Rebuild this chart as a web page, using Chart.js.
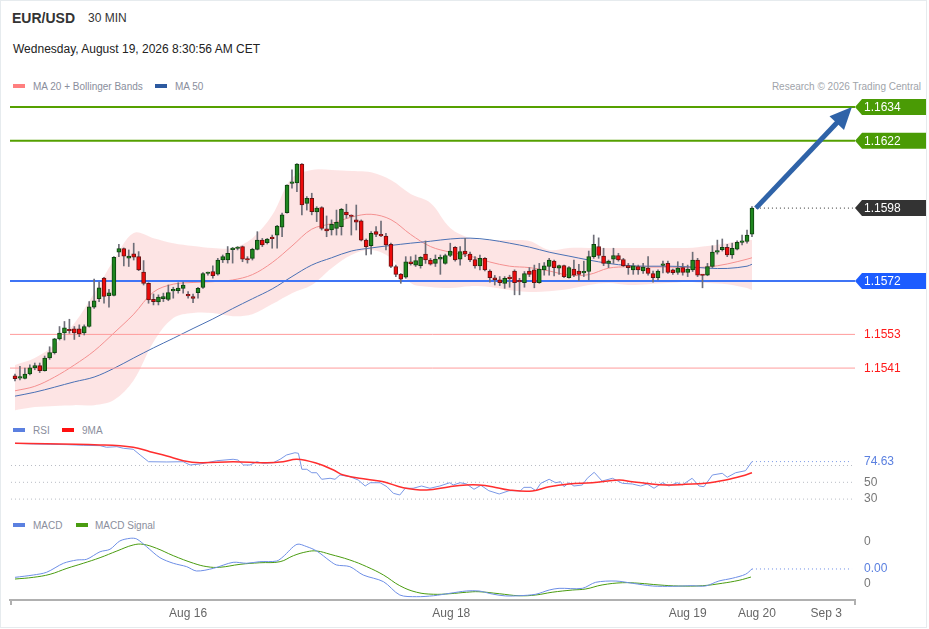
<!DOCTYPE html>
<html><head><meta charset="utf-8">
<script src="https://cdn.jsdelivr.net/npm/chart.js@4.4.1/dist/chart.umd.min.js"></script>
<style>
html,body{margin:0;padding:0;background:#fff;}
body{width:929px;height:629px;position:relative;overflow:hidden;font-family:"Liberation Sans",Arial,Helvetica,sans-serif;}
#frame{position:absolute;left:0;top:0;width:925px;height:626px;border:1px solid #e6ebee;}
.t{position:absolute;white-space:nowrap;}
canvas{position:absolute;left:0;}
.sw{position:absolute;width:12px;height:4px;}
.lg{font-size:10px;line-height:13px;color:#8a8e9c;}
</style></head><body>
<div id="frame"></div>
<div class="t" style="left:12px;top:10px;font-size:14px;line-height:17px;font-weight:bold;color:#333;">EUR/USD</div>
<div class="t" style="left:88px;top:11px;font-size:12px;line-height:15px;color:#333;">30 MIN</div>
<div class="t" style="left:13px;top:41px;font-size:12px;line-height:16px;color:#222;">Wednesday, August 19, 2026 8:30:56 AM CET</div>
<div class="sw" style="left:13px;top:84px;background:#ff7f7f;"></div>
<div class="t lg" style="left:33px;top:80px;">MA 20 + Bollinger Bands</div>
<div class="sw" style="left:155px;top:84px;background:#2d5aa0;"></div>
<div class="t lg" style="left:175px;top:80px;">MA 50</div>
<div class="t lg" style="right:8px;top:80px;color:#a0a4aa;">Research © 2026 Trading Central</div>
<div class="sw" style="left:13px;top:428px;background:#5b80e0;"></div>
<div class="t lg" style="left:33px;top:424px;">RSI</div>
<div class="sw" style="left:62px;top:428px;background:#ff1010;"></div>
<div class="t lg" style="left:82px;top:424px;">9MA</div>
<div class="sw" style="left:13px;top:523px;background:#5b80e0;"></div>
<div class="t lg" style="left:33px;top:519px;">MACD</div>
<div class="sw" style="left:76px;top:523px;background:#4a9c10;"></div>
<div class="t lg" style="left:95px;top:519px;">MACD Signal</div>

<canvas id="main" width="929" height="325" style="top:95px"></canvas>
<canvas id="rsi" width="929" height="70" style="top:436px"></canvas>
<canvas id="macd" width="929" height="99" style="top:530px"></canvas>

<script>
// ---------- DATA ----------
const opens = [
1.15382,1.15374,1.15373,1.15389,1.15411,1.15419,1.15401,1.15446,1.15465,1.15514,
1.15535,1.15545,1.15550,1.15550,1.15535,1.15558,1.15627,1.15657,1.15731,1.15668,
1.15669,1.15823,1.15836,1.15802,1.15817,1.15807,1.15752,1.15712,1.15655,1.15646,
1.15657,1.15655,1.15685,1.15686,1.15694,1.15668,1.15665,1.15679,1.15697,1.15747,
1.15754,1.15745,1.15795,1.15795,1.15832,1.15836,1.15843,1.15800,1.15801,1.15833,
1.15866,1.15857,1.15876,1.15884,1.15912,1.15964,1.16068,1.16070,1.16137,1.15997,
1.16015,1.15966,1.15982,1.15906,1.15902,1.15908,1.15914,1.15966,1.15951,1.15938,
1.15935,1.15866,1.15846,1.15896,1.15886,1.15880,1.15851,1.15772,1.15745,1.15734,
1.15789,1.15777,1.15775,1.15816,1.15795,1.15783,1.15798,1.15783,1.15811,1.15840,
1.15798,1.15827,1.15816,1.15797,1.15774,1.15801,1.15756,1.15732,1.15724,1.15712,
1.15730,1.15756,1.15719,1.15714,1.15756,1.15760,1.15714,1.15760,1.15772,1.15791,
1.15766,1.15775,1.15732,1.15763,1.15756,1.15749,1.15754,1.15807,1.15843,1.15809,
1.15783,1.15798,1.15811,1.15797,1.15775,1.15760,1.15772,1.15756,1.15766,1.15747,
1.15732,1.15776,1.15783,1.15760,1.15751,1.15768,1.15751,1.15760,1.15795,1.15741,
1.15741,1.15772,1.15823,1.15832,1.15840,1.15813,1.15834,1.15858,1.15861,1.15887];
const highs = [
1.15389,1.15416,1.15410,1.15422,1.15428,1.15428,1.15453,1.15486,1.15516,1.15558,
1.15576,1.15584,1.15558,1.15564,1.15564,1.15647,1.15727,1.15716,1.15733,1.15691,
1.15807,1.15851,1.15838,1.15831,1.15855,1.15825,1.15793,1.15714,1.15674,1.15671,
1.15677,1.15706,1.15698,1.15714,1.15716,1.15683,1.15674,1.15698,1.15750,1.15752,
1.15774,1.15801,1.15813,1.15843,1.15840,1.15843,1.15845,1.15807,1.15837,1.15896,
1.15872,1.15872,1.15884,1.15919,1.15962,1.16063,1.16116,1.16139,1.16139,1.16021,
1.16033,1.15985,1.15985,1.15952,1.15938,1.15973,1.15979,1.15994,1.15956,1.15991,
1.15938,1.15870,1.15896,1.15914,1.15934,1.15890,1.15855,1.15777,1.15747,1.15807,
1.15807,1.15813,1.15807,1.15863,1.15801,1.15813,1.15813,1.15816,1.15855,1.15843,
1.15843,1.15872,1.15823,1.15807,1.15813,1.15804,1.15760,1.15740,1.15736,1.15736,
1.15741,1.15760,1.15730,1.15754,1.15768,1.15777,1.15783,1.15786,1.15801,1.15795,
1.15777,1.15777,1.15772,1.15795,1.15780,1.15791,1.15827,1.15884,1.15874,1.15837,
1.15795,1.15837,1.15819,1.15801,1.15783,1.15783,1.15777,1.15783,1.15807,1.15756,
1.15760,1.15791,1.15791,1.15763,1.15789,1.15783,1.15777,1.15823,1.15801,1.15744,
1.15783,1.15846,1.15866,1.15870,1.15851,1.15855,1.15863,1.15884,1.15902,1.15985];
const lows = [
1.15364,1.15368,1.15371,1.15386,1.15404,1.15394,1.15399,1.15441,1.15460,1.15510,
1.15510,1.15534,1.15512,1.15522,1.15528,1.15556,1.15623,1.15647,1.15641,1.15627,
1.15667,1.15807,1.15774,1.15772,1.15795,1.15757,1.15706,1.15641,1.15635,1.15635,
1.15647,1.15650,1.15659,1.15677,1.15677,1.15659,1.15643,1.15659,1.15694,1.15741,
1.15730,1.15741,1.15786,1.15784,1.15784,1.15831,1.15789,1.15784,1.15795,1.15831,
1.15843,1.15852,1.15837,1.15837,1.15878,1.15962,1.16051,1.16039,1.15956,1.15973,
1.15956,1.15932,1.15902,1.15878,1.15884,1.15884,1.15884,1.15944,1.15884,1.15902,
1.15863,1.15813,1.15816,1.15878,1.15878,1.15831,1.15768,1.15736,1.15712,1.15730,
1.15777,1.15772,1.15766,1.15783,1.15777,1.15772,1.15744,1.15780,1.15807,1.15791,
1.15777,1.15807,1.15789,1.15766,1.15760,1.15756,1.15716,1.15706,1.15704,1.15694,
1.15698,1.15671,1.15671,1.15698,1.15736,1.15696,1.15712,1.15741,1.15741,1.15738,
1.15744,1.15732,1.15730,1.15736,1.15721,1.15736,1.15724,1.15801,1.15801,1.15775,
1.15768,1.15783,1.15791,1.15772,1.15744,1.15744,1.15744,1.15747,1.15741,1.15716,
1.15724,1.15749,1.15747,1.15744,1.15744,1.15741,1.15736,1.15754,1.15736,1.15696,
1.15739,1.15768,1.15816,1.15827,1.15807,1.15801,1.15831,1.15849,1.15855,1.15878];
const closes = [
1.15372,1.15376,1.15389,1.15411,1.15419,1.15401,1.15446,1.15465,1.15514,1.15535,
1.15553,1.15543,1.15535,1.15532,1.15558,1.15628,1.15650,1.15696,1.15665,1.15678,
1.15805,1.15836,1.15809,1.15809,1.15805,1.15760,1.15712,1.15653,1.15647,1.15663,
1.15665,1.15679,1.15691,1.15695,1.15706,1.15667,1.15658,1.15694,1.15747,1.15748,
1.15739,1.15795,1.15807,1.15819,1.15834,1.15841,1.15798,1.15795,1.15833,1.15866,
1.15849,1.15870,1.15871,1.15916,1.15956,1.16062,1.16070,1.16137,1.15991,1.16015,
1.15967,1.15980,1.15908,1.15899,1.15922,1.15929,1.15976,1.15956,1.15950,1.15930,
1.15866,1.15843,1.15890,1.15886,1.15881,1.15849,1.15772,1.15744,1.15727,1.15789,
1.15782,1.15793,1.15805,1.15795,1.15780,1.15798,1.15805,1.15811,1.15827,1.15795,
1.15825,1.15816,1.15795,1.15774,1.15801,1.15760,1.15732,1.15724,1.15714,1.15730,
1.15729,1.15714,1.15717,1.15747,1.15744,1.15714,1.15763,1.15774,1.15795,1.15768,
1.15775,1.15736,1.15768,1.15741,1.15744,1.15750,1.15807,1.15851,1.15811,1.15783,
1.15791,1.15811,1.15795,1.15775,1.15768,1.15774,1.15760,1.15770,1.15747,1.15732,
1.15756,1.15778,1.15751,1.15750,1.15766,1.15751,1.15763,1.15795,1.15741,1.15740,
1.15772,1.15823,1.15824,1.15840,1.15813,1.15837,1.15858,1.15863,1.15884,1.15980];

// Bollinger / moving averages sampled at candle indices
const bandIdx = [0,4,8,12,16,20,24,28,32,36,40,44,48,52,56,60,64,68,72,76,80,84,88,92,96,100,104,108,112,116,120,124,128,132,136,140,144,148,149];
const ma20 = [1.15329,1.15345,1.15378,1.15421,1.15471,1.15535,1.15602,1.15681,1.15709,1.15715,1.15718,1.15724,1.15743,1.15786,1.15845,1.15905,1.15925,1.15948,1.15958,1.15939,1.15886,1.15843,1.15823,1.15809,1.15788,1.15773,1.15768,1.15756,1.15741,1.15743,1.15766,1.15771,1.15770,1.15770,1.15768,1.15770,1.15781,1.15798,1.15803];
const bbUpper = [1.15421,1.15446,1.15492,1.15570,1.15677,1.15795,1.15891,1.15873,1.15855,1.15845,1.15838,1.15838,1.15873,1.15955,1.16087,1.16116,1.16116,1.16112,1.16108,1.16080,1.16030,1.15998,1.15909,1.15873,1.15866,1.15866,1.15863,1.15831,1.15838,1.15838,1.15838,1.15838,1.15838,1.15838,1.15838,1.15845,1.15855,1.15866,1.15866];
const bbLower = [1.15260,1.15271,1.15275,1.15278,1.15278,1.15296,1.15367,1.15503,1.15588,1.15606,1.15606,1.15595,1.15602,1.15638,1.15677,1.15706,1.15766,1.15813,1.15831,1.15802,1.15713,1.15699,1.15695,1.15702,1.15699,1.15688,1.15681,1.15684,1.15692,1.15706,1.15713,1.15706,1.15709,1.15713,1.15717,1.15713,1.15709,1.15695,1.15688];
const ma50 = [1.15310,1.15324,1.15342,1.15361,1.15378,1.15409,1.15446,1.15482,1.15516,1.15551,1.15585,1.15622,1.15657,1.15692,1.15736,1.15777,1.15803,1.15827,1.15838,1.15847,1.15855,1.15862,1.15870,1.15873,1.15867,1.15855,1.15841,1.15823,1.15809,1.15795,1.15783,1.15775,1.15773,1.15773,1.15771,1.15766,1.15765,1.15773,1.15780];

// key levels
const resistances = [1.1634, 1.1622];
const pivot = 1.1572;
const supports = [1.1553, 1.1541];
const lastPrice = 1.1598;
const arrowFrom = [149.8, 1.1598];
const arrowTo = [169.2, 1.1634];

// RSI
const rsiIdx = [0,3.7,7.1,10.5,13.8,17.2,18.5,20.6,21.9,23.9,25.3,27,30.7,34,35.4,37.4,38.8,40.8,44.1,45.1,46.2,47.5,48.9,50.2,52.2,53.6,54.9,56.6,57.3,58,59,60,61,62,63.7,64.7,65.7,67.7,69.4,70.8,71.8,73.8,75.2,76.5,77.8,78.9,80.5,82.2,83.9,85.9,87.9,88.6,90,91.3,92.8,94.2,95.8,97.9,99.9,102.2,102.9,104.3,105.3,106.3,108,109.3,110.3,111,112,113,114.7,115.7,117.1,118.7,120.8,122.8,124.8,126.5,127.8,129.2,130.9,132.2,133.9,134.9,136.9,138.3,139.3,141,143,144,145.7,147.7,149];
const rsiVals = [96.4,95.6,95.2,94.8,94.0,93.6,91.7,92.4,90.5,89.3,82.5,74.5,74.2,74.5,70.6,71.8,73.3,75.7,77.4,76.5,70.6,70.6,74.5,72.6,73.3,77.4,82.5,85.2,84.5,65.5,65.5,61.4,61.4,53.6,54.8,53.6,58.7,56.7,52.7,45.6,49.5,49.5,44.8,36.9,34.9,42.9,42.9,45.6,42.9,45.6,49.5,46.8,49.5,48.0,41.7,46.4,40,36.1,40,40,44,44,40,48.8,53.6,49.5,50.7,44.8,49.5,45.6,46.8,54.8,61.9,51.5,54.8,48.8,48.0,45.6,48,42.9,49.5,45.6,49.5,46.8,54.8,45.6,44.8,58.7,60.7,56,61.4,63.8,74.63];
const rsiMaIdx = [0,17.2,23.9,27.3,30.7,34,37.4,44.1,50.9,54.2,57,61,64.4,66.4,71.1,74.5,78.5,83.2,87.9,91.3,93.8,96.5,99.9,104.6,108,112,116.7,122.1,124.8,127.5,131.6,135.6,139.6,143.7,147,149];
const rsiMaVals = [96.4,94.4,91.7,86.4,81.3,75.7,73.3,74.5,73.3,74.5,77.4,72.6,64.6,58.7,53.6,50.7,43.6,40.8,44.8,46.8,46.8,44.8,40.8,39.6,44.8,48,49.5,52.7,50.7,48.8,46.8,47.6,48.8,52.7,57.5,61.4];
const rsiLevels = [30, 50, 70];
const rsiLabels = [50, 30];

// MACD
const macdIdx = [0,3.7,6.4,9.8,12.5,14.5,17.2,19.2,21.2,23.3,24.6,26.6,29.3,32,34.7,36.7,40.1,44.1,46.8,49.5,52.9,54.2,57,59,61,63.7,65,67.7,70.4,74.5,77.8,81.2,84.6,87.9,91.3,93.8,96.5,99.2,101.9,105.3,108,110,114.7,117.4,121.5,124.8,128.9,132.9,136.9,139.6,142.3,145,147.7,149];
const macdVals = [0.63e-4,0.85e-4,1.11e-4,1.96e-4,2.27e-4,2.34e-4,3.05e-4,3.28e-4,4.07e-4,4.32e-4,4.26e-4,3.53e-4,2.49e-4,1.96e-4,1.64e-4,1.23e-4,1.48e-4,2.05e-4,1.96e-4,2.11e-4,2.17e-4,2.58e-4,3.75e-4,3.53e-4,3.12e-4,2.17e-4,1.80e-4,1.64e-4,0.85e-4,0.22e-4,-1.04e-4,-1.20e-4,-1.11e-4,-0.88e-4,-0.66e-4,-0.66e-4,-0.95e-4,-1.13e-4,-1.11e-4,-0.97e-4,-0.57e-4,-0.41e-4,-0.41e-4,0.16e-4,0.28e-4,0.07e-4,-0.19e-4,-0.22e-4,-0.16e-4,-0.19e-4,0.28e-4,0.54e-4,0.92e-4,1.42e-4];
const sigIdx = [0,3.7,7.1,10.5,13.8,17.2,20.6,23.9,25.9,28.6,32,36.1,38.8,41.4,45.5,49.5,53.6,56.3,59,61,63.7,67.7,71.1,74.5,77.8,81.2,84.6,87.9,91.3,93.8,97.9,101.9,105.3,108.6,112.7,115.4,118.7,122.8,126.2,130.2,134.2,139,143,146.4,148.8];
const sigVals = [0.47e-4,0.63e-4,0.92e-4,1.48e-4,1.96e-4,2.49e-4,3.12e-4,3.69e-4,3.75e-4,3.38e-4,2.68e-4,1.96e-4,1.64e-4,1.58e-4,1.86e-4,2.01e-4,2.11e-4,2.68e-4,3.05e-4,3.12e-4,2.81e-4,2.27e-4,1.64e-4,0.85e-4,-0.16e-4,-0.78e-4,-0.97e-4,-0.92e-4,-0.78e-4,-0.73e-4,-0.92e-4,-1.11e-4,-1.04e-4,-0.78e-4,-0.57e-4,-0.47e-4,-0.09e-4,0.12e-4,0.07e-4,-0.09e-4,-0.19e-4,-0.16e-4,0.07e-4,0.35e-4,0.66e-4];
const macdLabelVals = [0.0004, 0];

// x axis
const tickPos = [35.0, 88.2, 136.0, 150.0, 164.0];
const tickLabels = ['Aug 16', 'Aug 18', 'Aug 19', 'Aug 20', 'Sep 3'];
const xMin = -1.01, xMax = 169.83;

// ---------- STYLE ----------
const FONT = '"Liberation Sans", Arial, sans-serif';
Chart.defaults.font.family = FONT;
const C = {
  up:'#1f861f', upBorder:'#0e420e', down:'#ee0a0a', downBorder:'#6a1212', wick:'#6e6e78',
  band:'rgba(250,190,190,0.42)', ma20:'#f49090', ma50:'#4a70b4',
  res:'#55a000', resTag:'#4a9b05', piv:'#3f74f5', pivTag:'#1c5cff', sup:'#ff9c9c', supText:'#ff1a1a',
  last:'#333333', arrow:'#2f63a8',
  rsi:'#7a98e6', rsiMa:'#ff2e2e', grid:'#b8bcc4', valBlue:'#5b80e0', grey:'#777'
};

const xy = (xs, ys) => xs.map((x, i) => ({x, y: ys[i]}));
const flat = (v, x0, x1) => [{x:x0, y:v}, {x:x1, y:v}];
const lineDs = (data, color, width, extra) => Object.assign({
  type:'line', data, borderColor:color, borderWidth:width, pointRadius:0, fill:false, tension:0
}, extra || {});

function baseOptions(yMin, yMax) {
  return {
    responsive:false, animation:false, events:[],
    layout:{padding:{left:10, right:74, top:0, bottom:0}},
    plugins:{legend:{display:false}, tooltip:{enabled:false}},
    scales:{
      x:{type:'linear', min:xMin, max:xMax, offset:false, display:false},
      y:{type:'linear', min:yMin, max:yMax, display:false}
    }
  };
}

function drawTag(ctx, x, y, text, bg) {
  const h = 16, w = 71;
  ctx.fillStyle = bg;
  ctx.beginPath();
  ctx.moveTo(x, y);
  ctx.lineTo(x + 7, y - h / 2);
  ctx.lineTo(x + w, y - h / 2);
  ctx.lineTo(x + w, y + h / 2);
  ctx.lineTo(x + 7, y + h / 2);
  ctx.closePath();
  ctx.fill();
  ctx.fillStyle = '#fff';
  ctx.font = '12px ' + FONT;
  ctx.textBaseline = 'middle';
  ctx.textAlign = 'left';
  ctx.fillText(text, x + 9, y + 0.5);
}

// ---------- MAIN ----------
const candleIdx = opens.map((_, i) => i);
const bodyColors = opens.map((o, i) => closes[i] >= o ? C.up : C.down);
const bodyBorders = opens.map((o, i) => closes[i] >= o ? C.upBorder : C.downBorder);

const mainOverlay = {
  id:'mainOverlay',
  afterDatasetsDraw(chart) {
    const {ctx, chartArea, scales:{x, y}} = chart;
    const r = chartArea.right;
    ctx.save();
    const x0 = x.getPixelForValue(arrowFrom[0]), y0 = y.getPixelForValue(arrowFrom[1]);
    const x1 = x.getPixelForValue(arrowTo[0]), y1 = y.getPixelForValue(arrowTo[1]);
    const a = Math.atan2(y1 - y0, x1 - x0), hl = 22, hw = 10;
    const bx = x1 - hl * Math.cos(a), by = y1 - hl * Math.sin(a);
    ctx.strokeStyle = C.arrow; ctx.lineWidth = 5; ctx.lineCap = 'butt';
    ctx.beginPath(); ctx.moveTo(x0, y0); ctx.lineTo(bx + 2 * Math.cos(a), by + 2 * Math.sin(a)); ctx.stroke();
    ctx.fillStyle = C.arrow;
    ctx.beginPath(); ctx.moveTo(x1, y1);
    ctx.lineTo(bx + hw * Math.sin(a), by - hw * Math.cos(a));
    ctx.lineTo(bx - hw * Math.sin(a), by + hw * Math.cos(a));
    ctx.closePath(); ctx.fill();
    resistances.forEach(v => drawTag(ctx, r, y.getPixelForValue(v), v.toFixed(4), C.resTag));
    drawTag(ctx, r, y.getPixelForValue(lastPrice), lastPrice.toFixed(4), C.last);
    drawTag(ctx, r, y.getPixelForValue(pivot), pivot.toFixed(4), C.pivTag);
    ctx.fillStyle = C.supText; ctx.font = '12px ' + FONT; ctx.textBaseline = 'middle'; ctx.textAlign = 'left';
    supports.forEach(v => ctx.fillText(v.toFixed(4), r + 9, y.getPixelForValue(v) + 0.5));
    ctx.restore();
  }
};

new Chart(document.getElementById('main'), {
  type:'bar',
  data:{datasets:[
    {type:'bar', data:candleIdx.map(i => ({x:i, y:[opens[i], closes[i]]})), backgroundColor:bodyColors,
     borderColor:bodyBorders, borderWidth:1, borderSkipped:false, barThickness:4, minBarLength:1.5, grouped:false, order:1},
    {type:'bar', data:candleIdx.map(i => ({x:i, y:[lows[i], highs[i]]})), backgroundColor:C.wick,
     borderWidth:0, barThickness:1, grouped:false, order:2},
    lineDs(flat(lastPrice, arrowFrom[0], xMax), C.last, 1, {borderDash:[1,3], order:3}),
    lineDs(flat(resistances[0], xMin, xMax), C.res, 2, {order:4}),
    lineDs(flat(resistances[1], xMin, xMax), C.res, 2, {order:4}),
    lineDs(flat(pivot, xMin, xMax), C.piv, 2, {order:4}),
    lineDs(flat(supports[0], xMin, xMax), C.sup, 1, {order:4}),
    lineDs(flat(supports[1], xMin, xMax), C.sup, 1, {order:4}),
    lineDs(xy(bandIdx, ma50), C.ma50, 1, {tension:0.35, order:5}),
    lineDs(xy(bandIdx, ma20), C.ma20, 1, {tension:0.35, order:5}),
    lineDs(xy(bandIdx, bbUpper), 'rgba(0,0,0,0)', 0, {tension:0.35, fill:'+1', backgroundColor:C.band, order:9}),
    lineDs(xy(bandIdx, bbLower), 'rgba(0,0,0,0)', 0, {tension:0.35, order:9})
  ]},
  options:baseOptions(1.15225, 1.16383),
  plugins:[mainOverlay]
});

// ---------- RSI ----------
const rsiOverlay = {
  id:'rsiOverlay',
  afterDatasetsDraw(chart) {
    const {ctx, chartArea, scales:{y}} = chart;
    ctx.save();
    ctx.font = '12px ' + FONT; ctx.textBaseline = 'middle'; ctx.textAlign = 'left';
    ctx.fillStyle = C.valBlue;
    const last = rsiVals[rsiVals.length - 1];
    ctx.fillText(last.toFixed(2), chartArea.right + 9, y.getPixelForValue(last));
    ctx.fillStyle = C.grey;
    rsiLabels.forEach(v => ctx.fillText(String(v), chartArea.right + 9, y.getPixelForValue(v)));
    ctx.restore();
  }
};
const rsiLast = rsiVals[rsiVals.length - 1];
new Chart(document.getElementById('rsi'), {
  type:'line',
  data:{datasets:[
    lineDs(xy(rsiMaIdx, rsiMaVals), C.rsiMa, 1.5, {tension:0.4, order:1}),
    lineDs(xy(rsiIdx, rsiVals), C.rsi, 1, {order:2}),
    lineDs(flat(rsiLast, rsiIdx[rsiIdx.length - 1], xMax - 0.6), C.rsi, 1, {borderDash:[1,3], order:3}),
    ...rsiLevels.map(v => lineDs(flat(v, xMin + 0.2, xMax - 0.6), C.grid, 1, {borderDash:[1,3], order:4}))
  ]},
  options:baseOptions(21.8, 105.1),
  plugins:[rsiOverlay]
});

// ---------- MACD ----------
const macdOverlay = {
  id:'macdOverlay',
  afterDraw(chart) {
    const {ctx, chartArea, scales:{y}} = chart;
    ctx.save();
    ctx.font = '12px ' + FONT; ctx.textBaseline = 'middle'; ctx.textAlign = 'left';
    ctx.fillStyle = C.grey;
    macdLabelVals.forEach(v => ctx.fillText(v.toFixed(0), chartArea.right + 9, y.getPixelForValue(v)));
    const last = macdVals[macdVals.length - 1];
    ctx.fillStyle = C.valBlue;
    ctx.fillText(last.toFixed(2), chartArea.right + 9, y.getPixelForValue(last));
    ctx.strokeStyle = '#b0b0b0'; ctx.lineWidth = 2;
    ctx.beginPath();
    ctx.moveTo(chartArea.left + 1, chartArea.bottom); ctx.lineTo(chartArea.left + 1, chartArea.bottom + 5);
    ctx.moveTo(chartArea.right, chartArea.bottom); ctx.lineTo(chartArea.right, chartArea.bottom + 5);
    ctx.stroke();
    ctx.restore();
  }
};
const macdOpts = baseOptions(-1.513e-4, 5.106e-4);
macdOpts.scales.x = {
  type:'linear', min:xMin, max:xMax, offset:false, display:true,
  grid:{display:false, drawTicks:false},
  border:{display:true, color:'#b0b0b0', width:2},
  ticks:{color:'#666', font:{size:12, family:FONT}, padding:6, autoSkip:false, maxRotation:0,
    callback:(v, i) => tickLabels[i]},
  afterBuildTicks:(scale) => { scale.ticks = tickPos.map(v => ({value:v})); },
  afterFit:(scale) => { scale.height = 29; }
};
const macdLast = macdVals[macdVals.length - 1];
new Chart(document.getElementById('macd'), {
  type:'line',
  data:{datasets:[
    lineDs(xy(sigIdx, sigVals), '#4a9c10', 1, {tension:0.4, order:2}),
    lineDs(xy(macdIdx, macdVals), '#6d8ee6', 1, {tension:0.3, order:1}),
    lineDs(flat(macdLast, macdIdx[macdIdx.length - 1], xMax - 0.6), '#6d8ee6', 1, {borderDash:[1,3], order:3})
  ]},
  options:macdOpts,
  plugins:[macdOverlay]
});
</script>
</body></html>
